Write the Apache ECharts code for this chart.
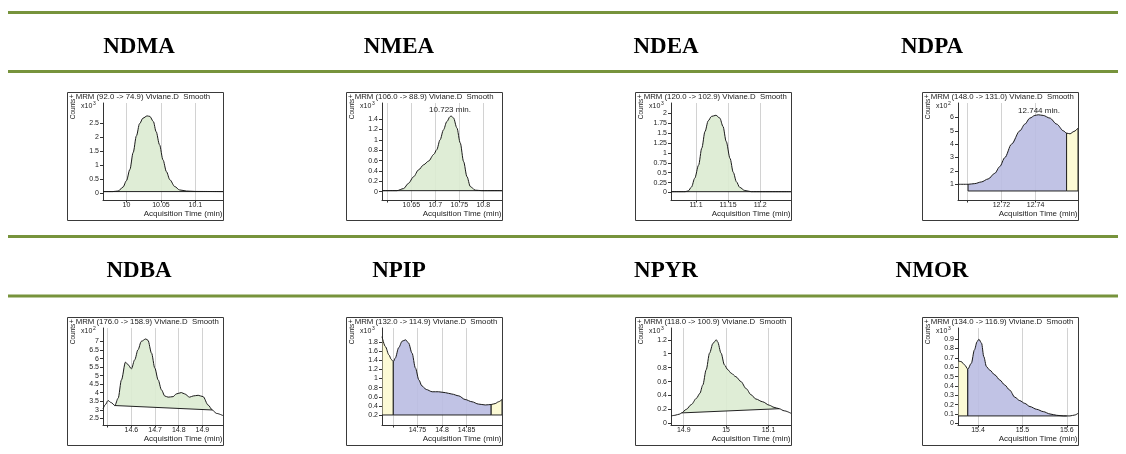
<!DOCTYPE html>
<html><head><meta charset="utf-8">
<script src="https://cdn.jsdelivr.net/npm/echarts@6/dist/echarts.min.js"></script>
<style>html,body{margin:0;padding:0;background:#fff}#c{width:1126px;height:454px}</style>
</head><body><div id="c"></div>
<script>
const headers = ['NDMA','NMEA','NDEA','NDPA','NDBA','NPIP','NPYR','NMOR'];
const titles = [
  '+ MRM (92.0 -> 74.9) Viviane.D  Smooth',
  '+ MRM (106.0 -> 88.9) Viviane.D  Smooth',
  '+ MRM (120.0 -> 102.9) Viviane.D  Smooth',
  '+ MRM (148.0 -> 131.0) Viviane.D  Smooth',
  '+ MRM (176.0 -> 158.9) Viviane.D  Smooth',
  '+ MRM (132.0 -> 114.9) Viviane.D  Smooth',
  '+ MRM (118.0 -> 100.9) Viviane.D  Smooth',
  '+ MRM (134.0 -> 116.9) Viviane.D  Smooth'
];
const exponents = ['3','3','3','2','2','3','3','3'];
const peakLabels = ['', '10.723 min.', '', '12.744 min.', '', '', '', ''];

const ndmaCurve = [[9.966,0.06],[9.980,0.06],[9.988,0.08],[9.995,0.22],[10.0,0.45],[10.005,0.85],[10.0097,1.45],[10.0145,2.05],[10.019,2.48],[10.024,2.68],[10.030,2.76],[10.034,2.74],[10.039,2.56],[10.043,2.2],[10.048,1.73],[10.053,1.19],[10.058,0.77],[10.063,0.48],[10.070,0.24],[10.077,0.12],[10.087,0.08],[10.10,0.065],[10.14,0.06]];
const nmeaCurve = [[10.589,0.02],[10.620,0.02],[10.634,0.06],[10.644,0.16],[10.655,0.29],[10.665,0.42],[10.676,0.52],[10.686,0.59],[10.697,0.72],[10.703,0.81],[10.710,1.0],[10.717,1.19],[10.724,1.35],[10.731,1.45],[10.733,1.46],[10.738,1.42],[10.745,1.23],[10.752,0.94],[10.759,0.58],[10.766,0.29],[10.773,0.1],[10.783,0.03],[10.797,0.02],[10.839,0.02]];
const ndeaCurve = [[11.061,0.02],[11.083,0.02],[11.088,0.04],[11.093,0.14],[11.098,0.36],[11.104,0.69],[11.109,1.12],[11.114,1.54],[11.119,1.81],[11.124,1.92],[11.131,1.95],[11.137,1.88],[11.142,1.67],[11.147,1.29],[11.153,0.86],[11.158,0.51],[11.163,0.27],[11.168,0.13],[11.176,0.05],[11.186,0.02],[11.248,0.02]];
const ndpaCurve = [[12.6945,1.0],[12.7004,1.0],[12.7043,1.05],[12.7082,1.175],[12.7122,1.4],[12.7161,1.825],[12.7190,2.325],[12.7220,3.0],[12.7259,4.0],[12.7308,5.0],[12.7337,5.5],[12.7367,5.95],[12.7396,6.15],[12.7416,6.2],[12.7445,6.15],[12.7484,5.95],[12.7524,5.5],[12.7563,5.0],[12.7582,4.825],[12.7602,4.775],[12.7625,4.95],[12.7649,5.2]];
const ndbaCurve = [[14.480,3.05],[14.490,3.3],[14.501,3.54],[14.515,3.42],[14.530,3.25],[14.544,3.68],[14.558,4.75],[14.575,5.79],[14.586,5.64],[14.600,5.4],[14.614,5.93],[14.628,6.52],[14.642,7.01],[14.661,7.15],[14.670,7.07],[14.685,6.32],[14.699,5.44],[14.713,4.75],[14.727,4.17],[14.741,3.81],[14.755,3.74],[14.776,3.77],[14.790,3.93],[14.811,4.01],[14.825,3.93],[14.846,3.74],[14.861,3.81],[14.882,3.85],[14.903,3.77],[14.924,3.28],[14.942,2.99],[14.959,2.79],[14.987,2.66]];
const npipCurve = [[14.678,1.92],[14.685,1.70],[14.692,1.52],[14.697,1.42],[14.701,1.37],[14.705,1.45],[14.712,1.68],[14.719,1.82],[14.726,1.85],[14.732,1.78],[14.739,1.56],[14.746,1.23],[14.753,0.97],[14.759,0.84],[14.768,0.76],[14.780,0.71],[14.793,0.71],[14.807,0.69],[14.820,0.66],[14.834,0.62],[14.847,0.54],[14.861,0.49],[14.874,0.44],[14.888,0.42],[14.900,0.43],[14.908,0.45],[14.915,0.49],[14.922,0.54]];
const npyrCurve = [[14.870,0.106],[14.879,0.115],[14.891,0.134],[14.895,0.15],[14.906,0.2],[14.918,0.27],[14.930,0.36],[14.938,0.43],[14.945,0.55],[14.953,0.77],[14.961,1.01],[14.969,1.15],[14.977,1.2],[14.980,1.17],[14.988,1.01],[14.996,0.84],[15.004,0.77],[15.012,0.72],[15.023,0.67],[15.035,0.6],[15.047,0.5],[15.059,0.41],[15.070,0.35],[15.086,0.31],[15.102,0.26],[15.113,0.23],[15.125,0.21],[15.137,0.18],[15.153,0.144]];
const nmorCurve = [[15.355,0.668],[15.362,0.661],[15.370,0.625],[15.377,0.579],[15.385,0.643],[15.392,0.786],[15.398,0.875],[15.402,0.9],[15.408,0.857],[15.413,0.714],[15.419,0.607],[15.426,0.571],[15.438,0.518],[15.449,0.464],[15.460,0.411],[15.471,0.357],[15.483,0.279],[15.494,0.243],[15.505,0.214],[15.517,0.179],[15.532,0.15],[15.547,0.125],[15.562,0.1],[15.577,0.086],[15.592,0.079],[15.607,0.079],[15.618,0.089],[15.625,0.107]];

// integration regions: [start, end, baselineStart, baselineEnd, fill kind]
const ndmaRegions = [[9.966,10.14,0.06,0.06,'g']];
const nmeaRegions = [[10.589,10.839,0.02,0.02,'g']];
const ndeaRegions = [[11.061,11.248,0.02,0.02,'g']];
const ndpaRegions = [[12.7004,12.7582,0.5,0.5,'b'],[12.7582,12.7649,0.5,0.5,'y']];
const ndbaRegions = [[14.530,14.942,3.25,2.99,'g']];
const npipRegions = [[14.678,14.701,0.2,0.2,'y'],[14.701,14.900,0.2,0.2,'b'],[14.900,14.922,0.2,0.2,'y']];
const npyrRegions = [[14.895,15.125,0.15,0.21,'g']];
const nmorRegions = [[15.355,15.377,0.079,0.079,'y'],[15.377,15.600,0.079,0.079,'b']];

const xRanges = [[9.966,10.14],[10.589,10.839],[11.061,11.248],[12.6945,12.7649],[14.480,14.987],[14.678,14.922],[14.870,15.153],[15.355,15.625]];
const yRanges = [[-0.24,3.22],[-0.16,1.71],[-0.19,2.26],[-0.175,7.08],[2.11,7.79],[-0.02,2.11],[-0.024,1.37],[-0.018,1.02]];
const xTicks = [[10,10.05,10.1],[10.6,10.65,10.7,10.75,10.8],[11.1,11.15,11.2],[12.70,12.72,12.74],[14.5,14.6,14.7,14.8,14.9],[14.7,14.75,14.8,14.85],[14.9,15,15.1],[15.4,15.5,15.6]];
const xLabels = [[10,10.05,10.1],[10.65,10.7,10.75,10.8],[11.1,11.15,11.2],[12.72,12.74],[14.6,14.7,14.8,14.9],[14.75,14.8,14.85],[14.9,15,15.1],[15.4,15.5,15.6]];
const yTicks = [[0,0.5,1,1.5,2,2.5],[0,0.2,0.4,0.6,0.8,1,1.2,1.4],[0,0.25,0.5,0.75,1,1.25,1.5,1.75,2],[1,2,3,4,5,6],[2.5,3,3.5,4,4.5,5,5.5,6,6.5,7],[0.2,0.4,0.6,0.8,1,1.2,1.4,1.6,1.8],[0,0.2,0.4,0.6,0.8,1,1.2],[0,0.1,0.2,0.3,0.4,0.5,0.6,0.7,0.8,0.9]];

const curves = [ndmaCurve,nmeaCurve,ndeaCurve,ndpaCurve,ndbaCurve,npipCurve,npyrCurve,nmorCurve];
const regions = [ndmaRegions,nmeaRegions,ndeaRegions,ndpaRegions,ndbaRegions,npipRegions,npyrRegions,nmorRegions];

const fillColors = {g:'#dcebd2', b:'#babde2', y:'#fcf9d0'};
const colLeft = [67,346,635,922], rowTop = [92,317], FW = 156, FH = 128;
const headerX = [139, 399, 666, 932];
const headerY = [47.5, 271];
const greenLines = [11, 70, 235, 294.5];
const FONT = '"Liberation Sans", Arial, sans-serif';

function fmt(v){ return String(parseFloat(Number(v).toFixed(4))); }
function interp(c, x){
  for (let i=0;i<c.length-1;i++){
    if (x>=c[i][0] && x<=c[i+1][0]){
      const t = (x-c[i][0])/((c[i+1][0]-c[i][0])||1);
      return c[i][1]+t*(c[i+1][1]-c[i][1]);
    }
  }
  return x < c[0][0] ? c[0][1] : c[c.length-1][1];
}
function makeRender(p){
  return function(params, api){
    const r = regions[p][params.dataIndex];
    const c = curves[p];
    const t0 = interp(c, r[0]), t1 = interp(c, r[1]);
    const pts = [[r[0], t0]];
    c.forEach(q => { if (q[0] > r[0] && q[0] < r[1]) pts.push(q); });
    pts.push([r[1], t1], [r[1], r[3]], [r[0], r[2]]);
    const poly = pts.map(q => api.coord(q));
    const edge = [[r[0],t0],[r[0],r[2]],[r[1],r[3]],[r[1],t1]].map(q => api.coord(q));
    return {type:'group', children:[
      {type:'polygon', shape:{points:poly}, style:{fill:fillColors[r[4]], opacity:0.9}},
      {type:'polyline', shape:{points:edge}, style:{stroke:'#222', lineWidth:1, fill:null}}
    ]};
  };
}

const grids=[], xAxes=[], yAxes=[], series=[], graphics=[];
greenLines.forEach(y => graphics.push({type:'rect', shape:{x:8, y:y, width:1110, height:3}, style:{fill:'#77933c'}, silent:true}));

for (let p=0;p<8;p++){
  const fl = colLeft[p%4], ft = rowTop[Math.floor(p/4)];
  grids.push({left: fl+36, top: ft+11, width: FW-36, height: 97, containLabel:false});
  xAxes.push({gridIndex:p, type:'value', min:xRanges[p][0], max:xRanges[p][1], position:'bottom',
    axisLine:{onZero:false, lineStyle:{color:'#333', width:1}},
    axisTick:{show:true, customValues:xTicks[p], length:2.5, lineStyle:{color:'#333'}},
    axisLabel:{customValues:xLabels[p], margin:1.5, fontSize:7, fontFamily:FONT, color:'#222', formatter:fmt},
    splitLine:{show:true, lineStyle:{color:'#d2d2d2', width:1}}});
  yAxes.push({gridIndex:p, type:'value', min:yRanges[p][0], max:yRanges[p][1],
    axisLine:{show:true, onZero:false, lineStyle:{color:'#333', width:1}},
    axisTick:{show:true, customValues:yTicks[p], length:3, lineStyle:{color:'#333'}},
    axisLabel:{customValues:yTicks[p], margin:4, fontSize:7, fontFamily:FONT, color:'#222', formatter:fmt},
    splitLine:{show:false}});
  series.push({type:'custom', xAxisIndex:p, yAxisIndex:p, z:2, clip:true, silent:true,
    renderItem: makeRender(p), encode:{x:0, y:1},
    data: regions[p].map(r => [r[0], r[2]])});
  series.push({type:'line', xAxisIndex:p, yAxisIndex:p, z:3, clip:true, silent:true,
    data: curves[p], showSymbol:false, symbol:'none', smooth:0.3, smoothMonotone:'x',
    lineStyle:{color:'#1a1a1a', width:1}});

  graphics.push({type:'rect', shape:{x:fl+0.5, y:ft+0.5, width:FW, height:FH}, style:{fill:'none', stroke:'#3a3a3a', lineWidth:1}, z:10, silent:true});
  graphics.push({type:'text', x:fl+2, y:ft+5, z:11, silent:true,
    style:{text:titles[p], x:0, y:0, font:'7.8px '+FONT, fill:'#222', textAlign:'left', align:'left', textVerticalAlign:'middle', verticalAlign:'middle', width:FW-3, overflow:'truncate', ellipsis:''}});
  graphics.push({type:'text', x:fl+6.5, y:ft+17, rotation:Math.PI/2, z:11, silent:true,
    style:{text:'Counts', x:0, y:0, font:'6.5px '+FONT, fill:'#222', textAlign:'center', align:'center', textVerticalAlign:'middle', verticalAlign:'middle'}});
  graphics.push({type:'text', x:fl+14, y:ft+14, z:11, silent:true,
    style:{text:'x10', x:0, y:0, font:'7px '+FONT, fill:'#222', textAlign:'left', align:'left', textVerticalAlign:'middle', verticalAlign:'middle'}});
  graphics.push({type:'text', x:fl+26, y:ft+11.5, z:11, silent:true,
    style:{text:exponents[p], x:0, y:0, font:'5px '+FONT, fill:'#222', textAlign:'left', align:'left', textVerticalAlign:'middle', verticalAlign:'middle'}});
  graphics.push({type:'text', x:fl+FW-0.5, y:ft+121.5, z:11, silent:true,
    style:{text:'Acquisition Time (min)', x:0, y:0, font:'8px '+FONT, fill:'#222', textAlign:'right', align:'right', textVerticalAlign:'middle', verticalAlign:'middle'}});
  graphics.push({type:'text', x:headerX[p%4], y:headerY[Math.floor(p/4)], z:11, silent:true,
    style:{text:headers[p], x:0, y:0, font:'bold 23px "Liberation Serif", "Times New Roman", serif', fill:'#000', textAlign:'center', align:'center', textVerticalAlign:'middle', verticalAlign:'middle'}});
}
graphics.push({type:'text', x:450, y:110, z:11, silent:true, style:{text:peakLabels[1], x:0, y:0, font:'8px '+FONT, fill:'#222', textAlign:'center', align:'center', textVerticalAlign:'middle', verticalAlign:'middle'}});
graphics.push({type:'text', x:1039, y:111, z:11, silent:true, style:{text:peakLabels[3], x:0, y:0, font:'8px '+FONT, fill:'#222', textAlign:'center', align:'center', textVerticalAlign:'middle', verticalAlign:'middle'}});

const chart = echarts.init(document.getElementById('c'), null, {renderer:'canvas'});
chart.setOption({backgroundColor:'#fff', animation:false, grid:grids, xAxis:xAxes, yAxis:yAxes, series:series, graphic:{elements:graphics}});
</script></body></html>
